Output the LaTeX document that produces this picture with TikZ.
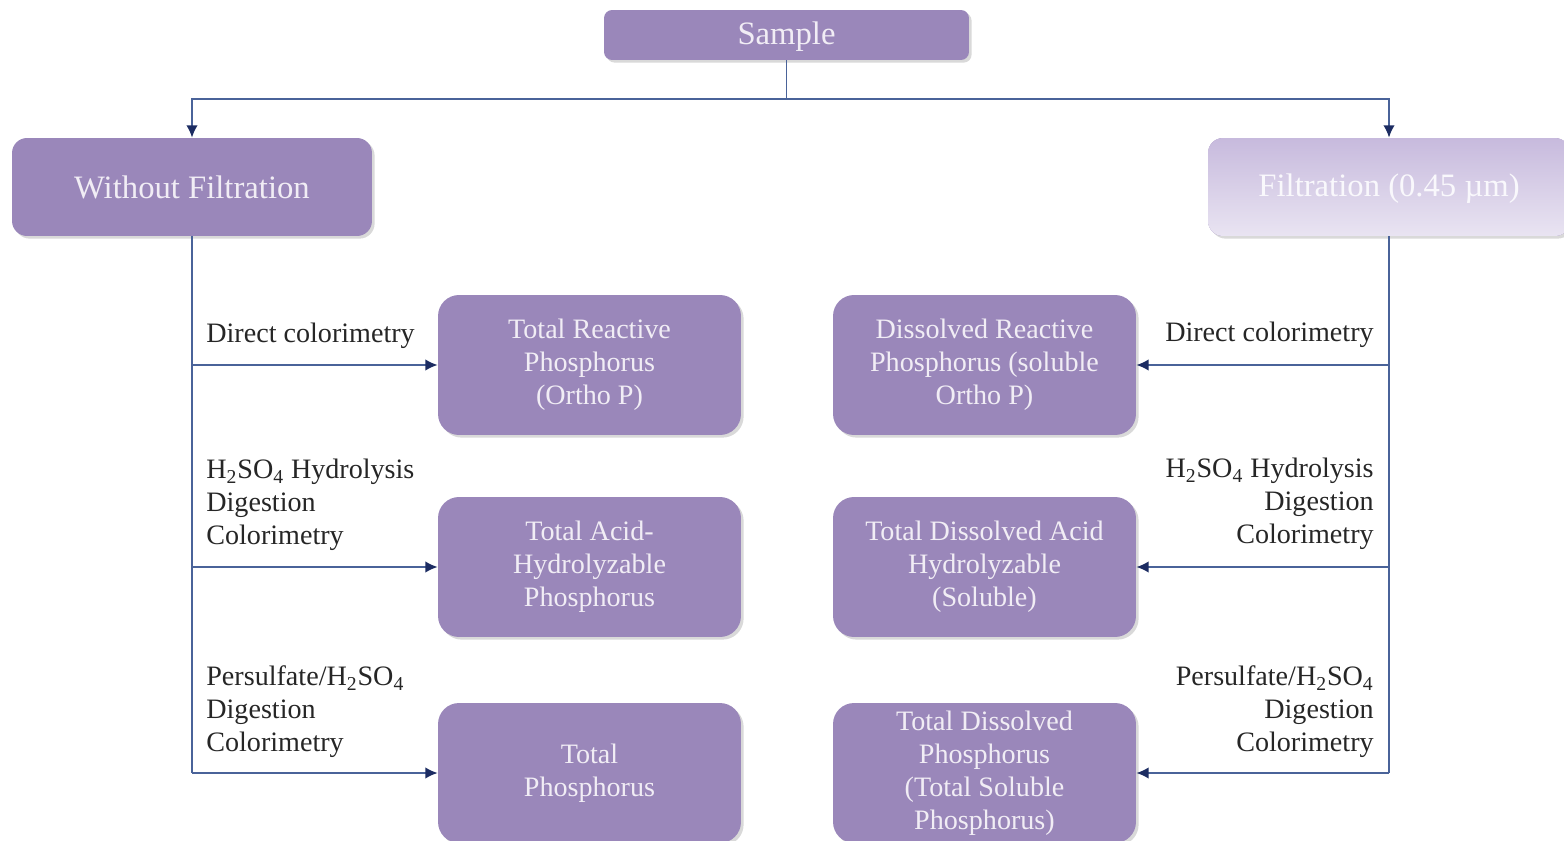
\documentclass[tikz,border=0pt]{standalone}
\usepackage{fontspec}
\setmainfont{Liberation Serif}
\usepackage{xcolor}
\usepackage{tikz}
\usetikzlibrary{arrows.meta,shadows,positioning}
\definecolor{boxpurple}{HTML}{9A87BA}
\definecolor{fadetop}{HTML}{C7BADD}
\definecolor{fadebottom}{HTML}{E9E4F2}
\definecolor{linkblue}{HTML}{4A6399}
\definecolor{tipblue}{HTML}{1C2C62}
\definecolor{boxtext}{HTML}{F1EDF5}

\begin{document}
\begin{tikzpicture}[x=0.02cm,y=-0.02cm,
    main node/.style={rectangle,rounded corners=0.42cm,fill=boxpurple,text=boxtext,
      minimum width=6.06cm,minimum height=2.8cm,inner sep=0pt,align=center,
      font=\fontsize{16}{18.8}\selectfont,
      drop shadow={shadow xshift=1.5pt,shadow yshift=-1.5pt,opacity=0.3}},
    head node/.style={rectangle,fill=boxpurple,text=boxtext,inner sep=0pt,
      font=\fontsize{18.6}{22}\selectfont,
      drop shadow={shadow xshift=1.5pt,shadow yshift=-1.5pt,opacity=0.3}},
    label node/.style={inner sep=0pt,text=black!85,font=\fontsize{16}{18.8}\selectfont},
    link/.style={draw=linkblue,line width=1pt},
    arrow link/.style={link,-{Latex[length=7pt,width=6.5pt,color=tipblue]}}]

\clip (0,0) rectangle (1564,841);

%Top of the tree
  \node[head node,minimum width=7.3cm,minimum height=1cm,rounded corners=0.16cm,text depth=0.5ex] (SampleBox) at (786.5,35) {Sample};
  \node[head node,minimum width=7.2cm,minimum height=1.96cm,rounded corners=0.3cm] (NoFilt) at (192,187) {Without Filtration};
  \node[head node,minimum width=7.24cm,minimum height=1.96cm,rounded corners=0.3cm,text height=2.9ex,text depth=0.6ex,
        top color=fadetop,bottom color=fadebottom,text=white!75!fadebottom] (Filt) at (1389,187) {Filtration (0.45 µm)};

%Phosphorus fractions
  \node[main node] (TRP) at (589.5,365) {Total Reactive\\Phosphorus\\(Ortho P)};
  \node[main node] (TAHP) at (589.5,567) {Total Acid-\\Hydrolyzable\\Phosphorus};
  \node[main node] (TP) at (589.5,773) {Total\\Phosphorus};

  \node[main node] (DRP) at (984.5,365) {Dissolved Reactive\\Phosphorus (soluble\\Ortho P)};
  \node[main node] (TDAH) at (984.5,567) {Total Dissolved Acid\\Hydrolyzable\\(Soluble)};
  \node[main node] (TDP) at (984.5,773) {Total Dissolved\\Phosphorus\\(Total Soluble\\Phosphorus)};

%Connectors
  \draw[link] (SampleBox.south) -- ++(0,39) coordinate (Split);
  \draw[arrow link] (Split) -| (NoFilt.north);
  \draw[arrow link] (Split) -| (Filt.north);

  \draw[link] (NoFilt.south) -- (NoFilt.south |- TP.west);
  \draw[link] (Filt.south) -- (Filt.south |- TDP.east);

  \foreach \b in {TRP,TAHP,TP}
  {\draw[arrow link] (NoFilt.south |- \b.west) -- (\b.west);}
  \foreach \b in {DRP,TDAH,TDP}
  {\draw[arrow link] (Filt.south |- \b.east) -- (\b.east);}

%Method labels
  \node[label node,anchor=west,align=left] (DirectL) at (206,336) {Direct colorimetry};
  \node[label node,anchor=west,align=left] (HydroL) at (206,505) {H\textsubscript{2}SO\textsubscript{4} Hydrolysis\\Digestion\\Colorimetry};
  \node[label node,anchor=west,align=left] (PersulfL) at (206,712) {Persulfate/H\textsubscript{2}SO\textsubscript{4}\\Digestion\\Colorimetry};

  \node[label node,anchor=east,align=right] (DirectR) at (1374,335) {Direct colorimetry};
  \node[label node,anchor=east,align=right] (HydroR) at (1374,504) {H\textsubscript{2}SO\textsubscript{4} Hydrolysis\\Digestion\\Colorimetry};
  \node[label node,anchor=east,align=right] (PersulfR) at (1374,712) {Persulfate/H\textsubscript{2}SO\textsubscript{4}\\Digestion\\Colorimetry};

\end{tikzpicture}
\end{document}
